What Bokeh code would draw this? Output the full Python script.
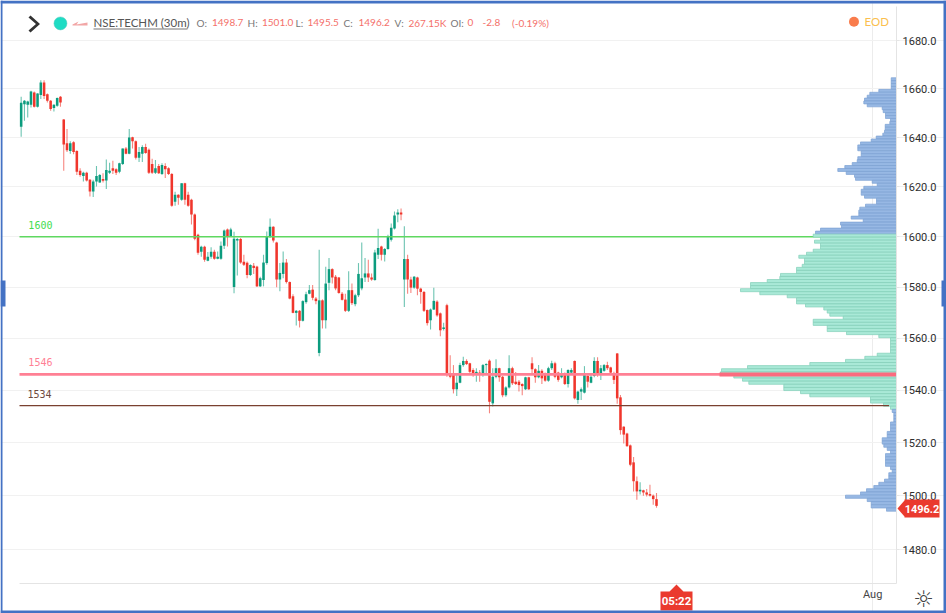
from bokeh.plotting import figure
from bokeh.embed import file_html
from bokeh.resources import INLINE
from bokeh.core.properties import value
from bokeh.models import (Range1d, FixedTicker, PrintfTickFormatter, Label, BoxAnnotation,
                          PolyAnnotation, ColumnDataSource)

opens = [1644.4,1653.7,1653.4,1653.4,1658.5,1652.6,1657.5,1662.6,1657.8,1655.1,
1652.1,1653,1656.7,1647.4,1637.7,1634.5,1638.1,1634.5,1626.5,1624.4,
1625.7,1622.8,1618.1,1622.1,1621.7,1623.1,1622.5,1625.7,1627.5,1627.1,
1626.1,1629.2,1635.5,1633.4,1640.1,1638.5,1631.8,1633.4,1636.1,1635,
1629.2,1625.7,1628.4,1625.2,1628.4,1627.5,1625.2,1614,1616.8,1614.8,
1621.4,1616.8,1614.8,1608.8,1600.8,1594,1596,1590.4,1592,1594,
1591.2,1591.2,1596.4,1602.8,1600,1580,1598.5,1599.1,1590,1589.6,
1584.8,1588.4,1588.1,1580.3,1582.8,1589.5,1600.1,1603.9,1597.7,1583,
1585.2,1589.7,1582,1576.4,1569.9,1570.7,1566.8,1574.1,1577.4,1579,
1575.5,1554.3,1574.8,1567,1581.7,1587.1,1584.1,1583.8,1577.4,1575.1,
1570.7,1578.8,1573.3,1576.8,1579.5,1583.8,1585.4,1583.8,1582.8,1592.8,
1596.1,1592.8,1595.1,1598.8,1603.2,1608.8,1609.7,1583,1591.1,1583,
1579.8,1583.8,1579.4,1578.1,1571,1567,1571.2,1574.3,1569.7,1563.6,
1572.9,1545.8,1546.4,1540.3,1542.8,1549.6,1551.2,1550.3,1547.7,1546.2,
1546.7,1546.2,1549.6,1551.3,1534.9,1545.1,1548.4,1545.1,1538,1541,
1548.4,1543.2,1543.2,1542.3,1540.3,1544.9,1550.3,1548,1544.9,1547.4,
1546.4,1543.6,1548.4,1550.3,1546.7,1544.9,1546.4,1542.3,1546.7,1551.2,
1536.2,1539.4,1539,1545.4,1542.8,1545.4,1551.2,1546.2,1547.4,1549.6,
1548.7,1546.4,1554.1,1537.2,1526,1523.4,1518.9,1512.5,1505.4,1501.6,
1502,1501.2,1500.6,1500,1498.7]
highs = [1656.7,1655.4,1655.1,1659.2,1658.9,1658.2,1663.6,1663.6,1658.1,1655.4,
1653.7,1656.4,1657.1,1647.6,1643.5,1638.5,1638.5,1634.8,1627.5,1626.1,
1626.1,1623.1,1622.8,1628.4,1625.2,1625.5,1631,1629.7,1630.5,1627.5,
1629.7,1635.5,1636.1,1643.5,1640.3,1638.8,1636.1,1636.8,1637.5,1635.5,
1631.4,1630.8,1629.2,1629.5,1629.5,1627.9,1625.6,1618,1617,1621.4,
1621.6,1618,1615.2,1609.2,1601.2,1596.4,1596.4,1593.9,1595.8,1594.8,
1594.1,1598.1,1602.8,1603.2,1603.5,1601.9,1599.5,1599.5,1592.8,1590.1,
1589,1589.5,1588.4,1584.1,1592.8,1602,1607.2,1604.1,1598,1589.5,
1594.1,1591.1,1582.2,1577.2,1571,1571,1574.8,1578.2,1580.8,1580.8,
1576.1,1594.8,1575.2,1588,1591.5,1587.4,1584.8,1584,1578.1,1577.4,
1586.3,1581.4,1577.4,1589.5,1597.7,1591.5,1590.8,1585.4,1594.8,1603.1,
1596.4,1595.5,1600.8,1605.2,1610.1,1611,1611.3,1604.1,1592.8,1584.1,
1584.4,1584.1,1579.8,1578.5,1571.2,1571.6,1579.8,1574.8,1570,1566,
1573.5,1553.4,1549.6,1546.4,1550.5,1552.8,1551.9,1550.5,1548.4,1548.4,
1547.7,1550,1550.3,1551.8,1548.4,1551.9,1548.6,1545.4,1541.5,1553.4,
1549,1546.9,1543.9,1542.6,1545.1,1545.1,1552.6,1548.4,1549.6,1548,
1546.7,1549,1551.3,1550.9,1547,1548.4,1546.7,1548,1548.4,1551.4,
1539.7,1541,1549.2,1545.8,1546.4,1552.6,1552.6,1549.6,1550,1550.9,
1549,1547,1554.3,1538.1,1526.2,1523.7,1519.2,1514.5,1507.2,1505,
1502.2,1502.5,1504.1,1500.4,1501]
lows = [1640.3,1646.9,1648.2,1652.3,1652.3,1652.3,1655.8,1655.8,1654.4,1651,
1650.7,1652.6,1652.6,1626.5,1634.1,1633.4,1633.2,1624.8,1624.1,1622.1,
1622.1,1616.1,1615.9,1620.1,1621.6,1621.7,1619.1,1625.2,1625.2,1624.8,
1625.5,1628.8,1633.2,1633.2,1635.5,1631,1630,1630,1633.4,1625.2,
1625.2,1625.2,1625.2,1624.8,1623.5,1624.8,1612,1612.4,1612.8,1614.4,
1612.8,1612,1604.8,1598.6,1592.8,1592,1590,1590.2,1591.2,1590.8,
1591,1590.8,1595.1,1596.1,1599.9,1577.6,1584.6,1589.2,1588.3,1583.5,
1584.4,1585.2,1580,1580,1580.3,1588.8,1599.5,1597.7,1579.9,1578.4,
1583.5,1581.4,1575.2,1569.7,1565,1564.2,1566.5,1573.5,1577.2,1574.8,
1573.3,1553,1563.8,1563.8,1578.8,1581.4,1578.8,1577.4,1574.7,1570.2,
1570.2,1573,1572.5,1576.1,1578.8,1582,1582,1582.5,1582.5,1591.1,
1590.5,1590.1,1594.8,1598.1,1602.8,1605.7,1606.5,1572.2,1577.4,1577.7,
1579.4,1576.8,1573.5,1570.2,1565,1563.4,1571,1568.4,1560.8,1563,
1545.1,1544.5,1538.7,1537.7,1542.6,1549,1549.6,1546.4,1545.1,1543.2,
1543.2,1545.1,1546.4,1531.1,1533.7,1544.5,1543.2,1537.2,1537.4,1540.6,
1541.9,1541.9,1539.4,1538,1540,1540,1546.4,1542.8,1544.5,1542.3,
1543.2,1543.2,1547.7,1544.5,1543.2,1544.5,1541.9,1541,1545.8,1536.4,
1534.7,1536.2,1538.7,1541,1542.6,1544.9,1545.1,1543.9,1547,1547.7,
1546.4,1542.3,1534.7,1523,1519.6,1518.4,1511,1501.6,1498.5,1500.4,
1500,1499.7,1499.7,1496.6,1495.5]
closes = [1654.3,1655.1,1654.8,1658.9,1652.6,1658.1,1662.6,1657.1,1655.1,1651.7,
1653.4,1656.2,1654.4,1637.2,1634.8,1637.7,1634.1,1626.1,1624.8,1625.7,
1622.5,1618.1,1622.1,1624.4,1624.8,1622.4,1626.8,1626.5,1626.5,1625.7,
1629.5,1635.5,1633.4,1640,1638.5,1631.8,1634.1,1636.1,1633.7,1625.7,
1625.7,1627.5,1625.5,1628.8,1627.1,1625.2,1612.4,1616.8,1615.6,1621.4,
1614.8,1612.4,1608.8,1599.2,1593.6,1596,1590.8,1592,1594,1591.2,
1592,1596.4,1602.4,1600,1602.8,1599.2,1599.1,1589.7,1588.8,1584.8,
1588.7,1587.5,1580.3,1583.5,1589.7,1600.1,1603.9,1598.5,1583,1585.6,
1589.7,1582,1575.5,1569.9,1570.7,1566.8,1574.5,1577.2,1578.8,1575.8,
1574.5,1574.8,1567,1581.4,1587.1,1583.8,1579.5,1577.7,1575,1570.7,
1578.8,1573.7,1576.8,1585.2,1583.5,1585.4,1583.8,1583,1593.7,1595.5,
1592.8,1595.1,1600.1,1603.5,1608.4,1609.7,1608.8,1591.1,1583,1579.8,
1584.1,1579.4,1578.1,1570.7,1565.9,1571.2,1574.6,1568.9,1563.1,1564.2,
1545.8,1545.1,1540.3,1542.8,1549.6,1551.2,1550,1547,1546.2,1547,
1545.8,1549.6,1550,1535.5,1545.1,1548.4,1544.9,1538,1541,1548.4,
1542.6,1542.3,1541.9,1541.5,1544.9,1540.3,1548,1544.9,1547.4,1544.5,
1543.6,1548.4,1550.3,1545.1,1543.9,1546.2,1542.3,1547.7,1547.7,1536.8,
1539.4,1540.3,1545.8,1543.2,1545.1,1551.2,1545.8,1548.4,1549.6,1548.4,
1546.7,1543.9,1536.8,1524.7,1523,1518.6,1511.6,1505.4,1501.6,1502.2,
1501.2,1500.4,1500,1498.7,1496.2]

profile_price = [1664.0,1662.8,1661.6,1660.4,1659.2,1658.0,1656.8,1655.6,1654.4,1653.2,
1652.0,1650.8,1649.6,1648.4,1647.2,1646.0,1644.8,1643.6,1642.4,1641.2,
1640.0,1638.8,1637.6,1636.4,1635.2,1634.0,1632.8,1631.6,1630.4,1629.2,
1628.0,1626.8,1625.6,1624.4,1623.2,1622.0,1620.8,1619.6,1618.4,1617.2,
1616.0,1614.8,1613.6,1612.4,1611.2,1610.0,1608.8,1607.6,1606.4,1605.2,
1604.0,1602.8,1601.6,1600.4,1599.2,1598.0,1596.8,1595.6,1594.4,1593.2,
1592.0,1590.8,1589.6,1588.4,1587.2,1586.0,1584.8,1583.6,1582.4,1581.2,
1580.0,1578.8,1577.6,1576.4,1575.2,1574.0,1572.8,1571.6,1570.4,1569.2,
1568.0,1566.8,1565.6,1564.4,1563.2,1562.0,1560.8,1559.6,1558.4,1557.2,
1556.0,1554.8,1553.6,1552.4,1551.2,1550.0,1548.8,1547.6,1546.4,1545.2,
1544.0,1542.8,1541.6,1540.4,1539.2,1538.0,1536.8,1535.6,1534.4,1533.2,
1532.0,1530.8,1529.6,1528.4,1527.2,1526.0,1524.8,1523.6,1522.4,1521.2,
1520.0,1518.8,1517.6,1516.4,1515.2,1514.0,1512.8,1511.6,1510.4,1509.2,
1508.0,1506.8,1505.6,1504.4,1503.2,1502.0,1500.8,1499.6,1498.4,1497.2,
1496.0,1494.8]
profile_vol = [5.3,5.3,5.3,5.3,17.7,26.7,29.3,32,32.7,29.3,
14.3,13.3,11,11,6,6.7,11.3,11.3,12,13.7,
20.3,25.3,36,38.7,38.7,35.3,35.3,38.7,39.3,44.3,
51.7,58.7,50.3,42,41,24.3,19.3,32.7,35.3,35.3,
32,20,20,31,36.7,37.7,37.7,45.3,33.3,56,
55,76,81,83.3,76,82,76,76,83.3,90,
97.7,92,92,94.3,100,100,116,116.7,129.3,146,
146,156,136.7,109.3,100,100,91,72.7,69.3,66.7,
53.3,83.3,83.3,69.3,69.3,50,17.7,6,6,6,
6,6,19.3,31.7,51,86.7,149,175,176,162.7,
154,147.7,112.7,112.7,96,86.7,26,26,13,6,
4.3,2.7,2.7,2.7,6,6,6,9.3,9.3,14.3,
14.3,12.7,9.3,6,11,11,11,11,6,4.3,
7.7,7.7,12,17.7,22.7,30,36,51,29.3,25.3,
25.3,10]
poc_price = 1546.0
poc_vol = 177
value_area_high = 1600.9
value_area_low = 1532.8

level_prices = [1600, 1546, 1534]
level_labels = ["1600", "1546", "1534"]
level_colors = ["#5fd860", "#ff8094", "#7a4030"]
label_colors = ["#45dd50", "#ff8094", "#6e4a3e"]
price_ticks = [1480, 1500, 1520, 1540, 1560, 1580, 1600, 1620, 1640, 1660, 1680]
aug_tick = 260

W, H = 946, 613
GREEN, RED = "#0b9c7e", "#f0362c"
X_LEFT, X_AXIS = -0.51, 267.3
Y_BOTTOM, Y_TOP = 1467.5, 1694.4

p = figure(width=W, height=H, y_axis_type="log", y_axis_location="right",
           x_range=Range1d(-6.31, 282.55), y_range=Range1d(1456.6, 1696.96),
           output_backend="svg", toolbar_location=None,
           min_border_left=0, min_border_right=0, min_border_top=0, min_border_bottom=0,
           background_fill_color="white", border_fill_color="white")
p.outline_line_color = None
p.extra_x_ranges = {"vol": Range1d(896, -50)}

ya = p.yaxis[0]
ya.fixed_location = X_AXIS
ya.bounds = (Y_BOTTOM, Y_TOP)
ya.ticker = FixedTicker(ticks=price_ticks)
ya.formatter = PrintfTickFormatter(format="%.1f")
ya.major_label_text_font = "Roboto"
ya.major_label_text_font_size = "11px"
ya.major_label_text_color = "#2e2e2e"
ya.major_tick_line_color = "#e6e6e6"
ya.major_tick_in = 0
ya.major_tick_out = 3
ya.minor_tick_line_color = None
ya.axis_line_color = "#e4e4e4"
ya.major_label_standoff = 3

xa = p.xaxis[0]
xa.fixed_location = Y_BOTTOM
xa.bounds = (X_LEFT, X_AXIS)
xa.ticker = FixedTicker(ticks=[aug_tick])
xa.major_label_overrides = {aug_tick: "Aug"}
xa.major_label_text_font = "Roboto"
xa.major_label_text_font_size = "11px"
xa.major_label_text_color = "#444444"
xa.major_tick_line_color = None
xa.minor_tick_line_color = None
xa.axis_line_color = "#e4e4e4"
xa.major_label_standoff = -2

p.ygrid[0].ticker = FixedTicker(ticks=price_ticks)
p.ygrid[0].bounds = (X_LEFT, X_AXIS)
p.ygrid[0].grid_line_color = "#f1f1f1"
p.ygrid[0].minor_grid_line_color = None
p.xgrid[0].ticker = FixedTicker(ticks=[aug_tick])
p.xgrid[0].bounds = (Y_BOTTOM, Y_TOP)
p.xgrid[0].grid_line_color = "#ececec"

# candles
idx = list(range(len(closes)))
colors = [GREEN if c >= o else RED for o, c in zip(opens, closes)]
tops = [max(o, c) for o, c in zip(opens, closes)]
bots = [min(o, c) for o, c in zip(opens, closes)]
src = ColumnDataSource(dict(x=idx, high=highs, low=lows, top=tops, bottom=bots, color=colors))
p.segment("x", "high", "x", "low", source=src, line_color="color", line_width=1.1, line_alpha=0.6)
p.vbar("x", top="top", bottom="bottom", width=0.78, source=src, fill_color="color", line_color=None)

p.segment(x0=[X_LEFT], y0=[level_prices[0]], x1=[X_AXIS], y1=[level_prices[0]], line_color=level_colors[0], line_width=1.5)
p.segment(x0=[X_LEFT], y0=[level_prices[1]], x1=[X_AXIS], y1=[level_prices[1]], line_color=level_colors[1], line_width=2.8)

# volume profile
pc = ["#97b8e4" if (q > value_area_high or q < value_area_low) else "#a9e9d7" for q in profile_price]
pl = ["#7ba1d3" if (q > value_area_high or q < value_area_low) else "#82cfb8" for q in profile_price]
psrc = ColumnDataSource(dict(y=profile_price, v=profile_vol, fc=pc, lc=pl))
p.hbar(y="y", left=0, right="v", height=1.2, source=psrc, x_range_name="vol",
       fill_color="fc", line_color="lc", line_width=0.7)
p.hbar(y=[poc_price], left=[0], right=[poc_vol], height=1.5, x_range_name="vol",
       fill_color="#fb6b7f", line_color=None)

p.segment(x0=[X_LEFT], y0=[level_prices[2]], x1=[265], y1=[level_prices[2]], line_color=level_colors[2], line_width=1.2)

p.text(x=[2.2, 2.2, 1.9], y=level_prices, text=level_labels, text_color=label_colors,
       text_font=value("DejaVu Sans Mono"), text_font_size="10px", text_baseline="middle",
       y_offset=-12)


def lab(x, y, t, color="#666666", size="11px", font="Lato", style="normal", align="left"):
    p.add_layout(Label(x=x, y=y, x_units="canvas", y_units="canvas", text=t, text_color=color,
                       text_font=font, text_font_size=size, text_font_style=style,
                       text_baseline="middle", text_align=align, level="overlay"))


def box(l, r, t, b, color, alpha=1.0):
    p.add_layout(BoxAnnotation(left=l, right=r, top=t, bottom=b, left_units="canvas",
                               right_units="canvas", top_units="canvas", bottom_units="canvas",
                               fill_color=color, fill_alpha=alpha, line_color=None, level="annotation"))


def poly(xs, ys, color):
    p.add_layout(PolyAnnotation(xs=xs, ys=ys, xs_units="canvas", ys_units="canvas",
                                fill_color=color, fill_alpha=1, line_color=None, level="annotation"))


GR, RD = "#777777", "#f4706a"
poly([30, 39.5, 30, 28, 35.5, 28], [15, 23.5, 32, 30, 23.5, 17], "#333333")
poly([72, 78, 76, 87, 87, 72], [24, 21, 24, 22, 25, 25], "#f2a6a6")
p.circle(x=[12.0], y=[1687.3], radius=6.5, radius_units="screen", fill_color="#1fdcc4", line_color="#59c9bd", line_width=0.5)
lab(93, 22, "NSE:TECHM (30m)", "#555555", "11.5px")
box(93, 187, 28, 29, "#777777")
for x, t, c in [(196, "O:", GR), (211.5, "1498.7", RD), (247, "H:", GR), (261.5, "1501.0", RD),
                (295, "L:", GR), (307, "1495.5", RD), (343, "C:", GR), (358, "1496.2", RD),
                (394, "V:", GR), (408, "267.15K", RD), (450, "OI:", GR), (467, "0", RD),
                (482, "-2.8", RD), (511.5, "(-0.19%)", RD)]:
    lab(x, 22, t, c, "10px")
p.circle(x=[254.3], y=[1688.0], radius=5, radius_units="screen", fill_color="#f97c4c", line_color=None)
lab(864, 21, "EOD", "#fbbf4e", "11.5px")

# price and time tags
poly([897, 904, 904, 939, 939, 904, 904], [508, 500, 499, 499, 517, 517, 516], "#ea3a2e")
lab(921.5, 508, "1496.2", "white", "11px", "Roboto", "bold", "center")
poly([669, 676, 683, 692, 692, 660, 660], [591, 584, 591, 591, 610, 610, 591], "#ea3a2e")
lab(676, 600.5, "05:22", "white", "11.5px", "Roboto", "bold", "center")
lab(923, 598, "☼", "#444444", "23px", "DejaVu Sans", "normal", "center")

# page frame and side handles
FRAME = "#4472c4"
box(0, 2, 0, 613, FRAME)
box(0, 946, 0, 3, FRAME)
box(943, 946, 0, 613, FRAME)
box(0, 946, 610, 613, FRAME)
box(0, 5, 280, 306, FRAME)
box(941, 946, 280, 306, FRAME)

open("out.html", "w").write(file_html(p, INLINE))
